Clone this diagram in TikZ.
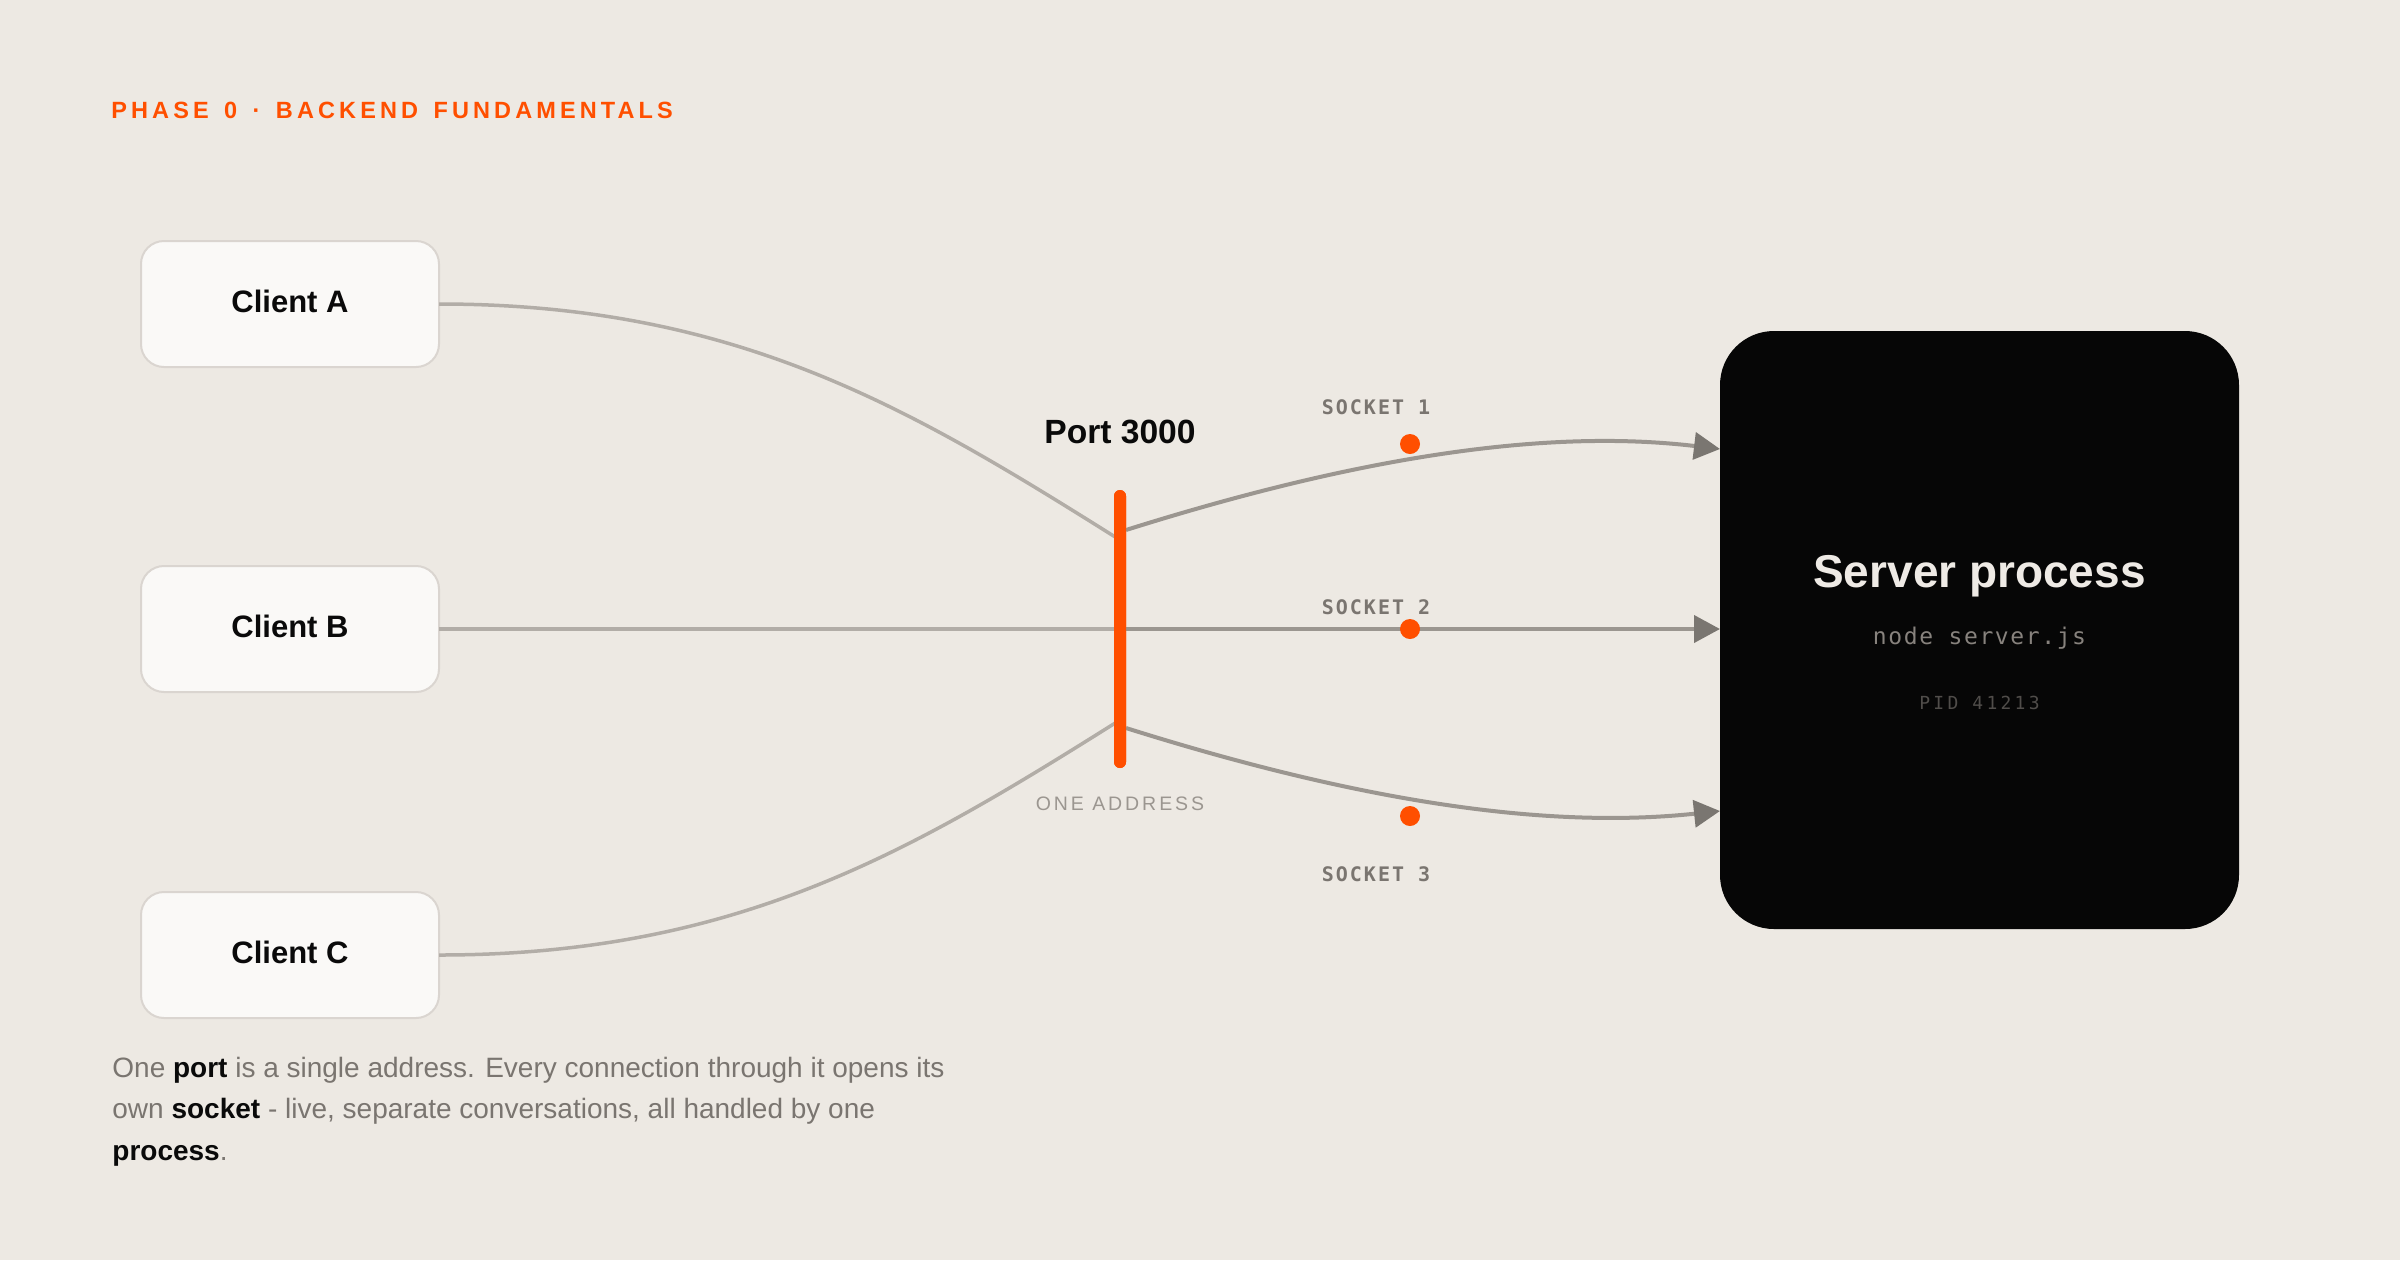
\documentclass[tikz,border=0pt]{standalone}
\usepackage{fontspec}
\setmainfont{Liberation Sans}
\newfontfamily\titlefont[LetterSpace=17.5,WordSpace=1.45]{Liberation Sans}
\newfontfamily\addrfont[LetterSpace=15]{Liberation Sans}
\newfontfamily\sockfont[LetterSpace=10]{DejaVu Sans Mono}
\newfontfamily\pidfont[LetterSpace=18]{DejaVu Sans Mono}
\newfontfamily\codefont[LetterSpace=7]{DejaVu Sans Mono}
\usetikzlibrary{arrows.meta,calc}
\definecolor{bg}{RGB}{237,233,227}
\definecolor{accent}{RGB}{255,79,0}
\definecolor{cardfill}{RGB}{250,249,247}
\definecolor{cardline}{RGB}{218,213,208}
\definecolor{incol}{RGB}{178,173,167}
\definecolor{outcol}{RGB}{155,150,144}
\definecolor{tipcol}{RGB}{122,118,113}
\definecolor{socktext}{RGB}{122,117,112}
\definecolor{addrtext}{RGB}{155,150,144}
\definecolor{captext}{RGB}{122,117,112}
\definecolor{ink}{RGB}{10,10,10}
\definecolor{srvfill}{RGB}{6,6,6}
\definecolor{srvtext}{RGB}{238,234,229}
\definecolor{codetext}{RGB}{135,130,125}
\definecolor{pidtext}{RGB}{80,77,74}
\tikzset{
  client/.style={draw=cardline, line width=1pt, fill=cardfill, rounded corners=11.5pt,
    minimum width=149pt, minimum height=63pt, inner sep=0pt, outer sep=0pt, text depth=3pt,
    font=\fontsize{15.5pt}{18pt}\selectfont\bfseries, text=ink},
  portbar/.style={fill=accent, draw=none, rounded corners=3pt, minimum width=6pt,
    minimum height=139pt, inner sep=0pt, outer sep=0pt},
  server/.style={fill=srvfill, draw=none, rounded corners=27pt, minimum width=259.5pt,
    minimum height=299pt, inner sep=0pt, outer sep=0pt},
  sockdot/.style={circle, fill=accent, draw=none, minimum size=10pt, inner sep=0pt},
  inwire/.style={draw=incol, line width=1.75pt},
  outwire/.style={draw=outcol, line width=2pt, -{Triangle[length=13pt,width=13.5pt,color=tipcol]}},
  socklabel/.style={anchor=base, inner sep=0pt, text=socktext, font=\sockfont\fontsize{10pt}{12pt}\selectfont\bfseries},
  captxt/.style={anchor=base west, inner sep=0pt, text=captext, font=\fontsize{14pt}{20.75pt}\selectfont},
}
\begin{document}
\begin{tikzpicture}[x=0.5pt,y=-0.5pt]
\fill[bg] (0,0) rectangle (2400,1260);
\useasboundingbox (0,0) rectangle (2400,1260);

% title
\node[anchor=base west, inner sep=0pt, text=accent, font=\titlefont\fontsize{11.75pt}{14pt}\selectfont\bfseries]
  (title) at (111,118.5) {PHASE 0 · BACKEND FUNDAMENTALS};

% clients
\node[client] (ca) at (290,304) {Client A};
\node[client] (cb) at (290,629) {Client B};
\node[client] (cc) at (290,955) {Client C};

% port
\node[portbar] (port) at (1120,629) {};
\coordinate (pa) at ($(port.center)+(0,-89)$);
\coordinate (pc) at ($(port.center)+(0,91)$);
\coordinate (po1) at ($(port.center)+(6,-99)$);
\coordinate (po3) at ($(port.center)+(6,99)$);

% server
\node[server] (srv) at (1979.5,630) {};
\coordinate (t1) at ($(srv.west)+(0,-181)$);
\coordinate (t2) at ($(srv.west)+(0,-1)$);
\coordinate (t3) at ($(srv.west)+(0,181)$);

% incoming wires
\draw[inwire] (ca.east) .. controls +(300,0) and (913,410) .. (pa);
\draw[inwire] (cb.east) -- (port.center);
\draw[inwire] (cc.east) .. controls +(300,0) and (913,850) .. (pc);

% outgoing wires
\draw[outwire] (po1) .. controls (1380,450) and (1560,430) .. (t1);
\draw[outwire] (port.center) -- (t2);
\draw[outwire] (po3) .. controls (1380,808) and (1560,828) .. (t3);

% port bar on top
\node[portbar] at (port.center) {};

% port labels
\node[anchor=base, inner sep=0pt, text=ink, font=\fontsize{16.8pt}{19pt}\selectfont\bfseries]
  (portlbl) at (1120,443) {Port 3000};
\node[anchor=base, inner sep=0pt, text=addrtext, font=\addrfont\fontsize{9.75pt}{12pt}\selectfont]
  (addr) at (1120,810) {ONE ADDRESS};

% sockets
\node[sockdot] (s1) at (1410,444) {};
\node[sockdot] (s2) at (1410,629) {};
\node[sockdot] (s3) at (1410,816) {};
\node[socklabel] (l1) at (1376,414.5) {SOCKET 1};
\node[socklabel] (l2) at (1376,614.5) {SOCKET 2};
\node[socklabel] (l3) at (1376,881.5) {SOCKET 3};

% server text
\node[anchor=base, inner sep=0pt, text=srvtext, font=\fontsize{23pt}{27pt}\selectfont\bfseries]
  (srvname) at (1979.5,587.5) {Server process};
\node[anchor=base, inner sep=0pt, text=codetext, font=\codefont\fontsize{11.5pt}{14pt}\selectfont]
  (srvcmd) at (1979.5,644) {node server.js};
\node[anchor=base, inner sep=0pt, text=pidtext, font=\pidfont\fontsize{9pt}{11pt}\selectfont]
  (srvpid) at (1979.5,709.5) {PID 41213};

% caption
\node[captxt] (cap1) at (112,1077) {One \textcolor{ink}{\bfseries port} is a single address. Every connection through it opens its};
\node[captxt] (cap2) at (112,1118.5) {own \textcolor{ink}{\bfseries socket} - live, separate conversations, all handled by one};
\node[captxt] (cap3) at (112,1160) {\textcolor{ink}{\bfseries process}.};
\end{tikzpicture}
\end{document}
